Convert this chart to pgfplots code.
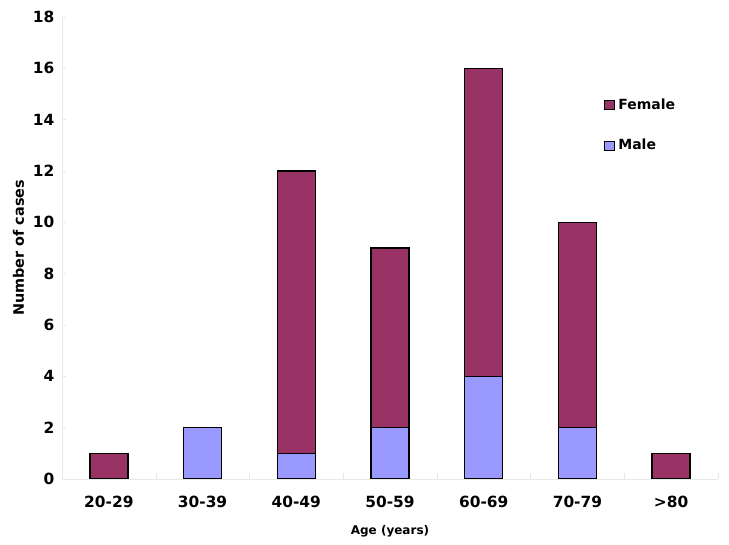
\documentclass[border=0pt]{standalone}
\usepackage{pgfplots}
\pgfplotsset{compat=1.18}
\usepackage{fontspec}
\setmainfont{DejaVu Sans}
\definecolor{female}{HTML}{993366}
\definecolor{male}{HTML}{9999FF}
\definecolor{faint}{HTML}{E8E8E8}
\begin{document}
\begin{tikzpicture}
\begin{axis}[
  scale only axis,
  width=328pt, height=231pt,
  ybar stacked,
  bar width=19pt,
  ymin=0, ymax=18, ytick distance=2,
  xmin=-0.5, xmax=6.5,
  xtick={0,...,6},
  xticklabels={20-29,30-39,40-49,50-59,60-69,70-79,>80},
  minor xtick={-0.5,0.5,...,6.5},
  major x tick style={draw=none},
  minor tick length=3pt,
  major tick length=2pt,
  tick style={faint},
  axis x line*=bottom,
  axis y line*=left,
  axis line style={faint, -},
  tick label style={font=\bfseries\fontsize{7.7}{8.5}\selectfont},
  /pgf/number format/assume math mode=true,
  yticklabel style={xshift=-0.3pt},
  xticklabel style={yshift=-5pt},
  xlabel={Age (years)},
  ylabel={Number of cases},
  xlabel style={font=\bfseries\fontsize{6}{7}\selectfont, yshift=-2pt},
  ylabel style={font=\bfseries\fontsize{7.2}{8}\selectfont, yshift=-2.5pt},
  legend style={draw=none, fill=none, at={(0.817,0.842)}, anchor=north west,
    font=\bfseries\fontsize{7}{8}\selectfont, row sep=9.5pt,
    legend cell align=left},
  reverse legend,
]
\addplot[fill=male, draw=black, line width=0.7pt,
  legend image code/.code={\draw[fill=male,draw=black,line width=0.4pt] (0pt,-2.3pt) rectangle (4.6pt,2.3pt);}]
  coordinates {(0,0) (1,2) (2,1) (3,2) (4,4) (5,2) (6,0)};
\addplot[fill=female, draw=black, line width=0.7pt,
  legend image code/.code={\draw[fill=female,draw=black,line width=0.4pt] (0pt,-2.3pt) rectangle (4.6pt,2.3pt);}]
  coordinates {(0,1) (1,0) (2,11) (3,7) (4,12) (5,8) (6,1)};
\legend{Male,Female}
\end{axis}
\pgfresetboundingbox
\path ([shift={(-31pt,-33pt)}]current axis.south west) rectangle ([shift={(5.5pt,8.5pt)}]current axis.north east);
\end{tikzpicture}
\end{document}
